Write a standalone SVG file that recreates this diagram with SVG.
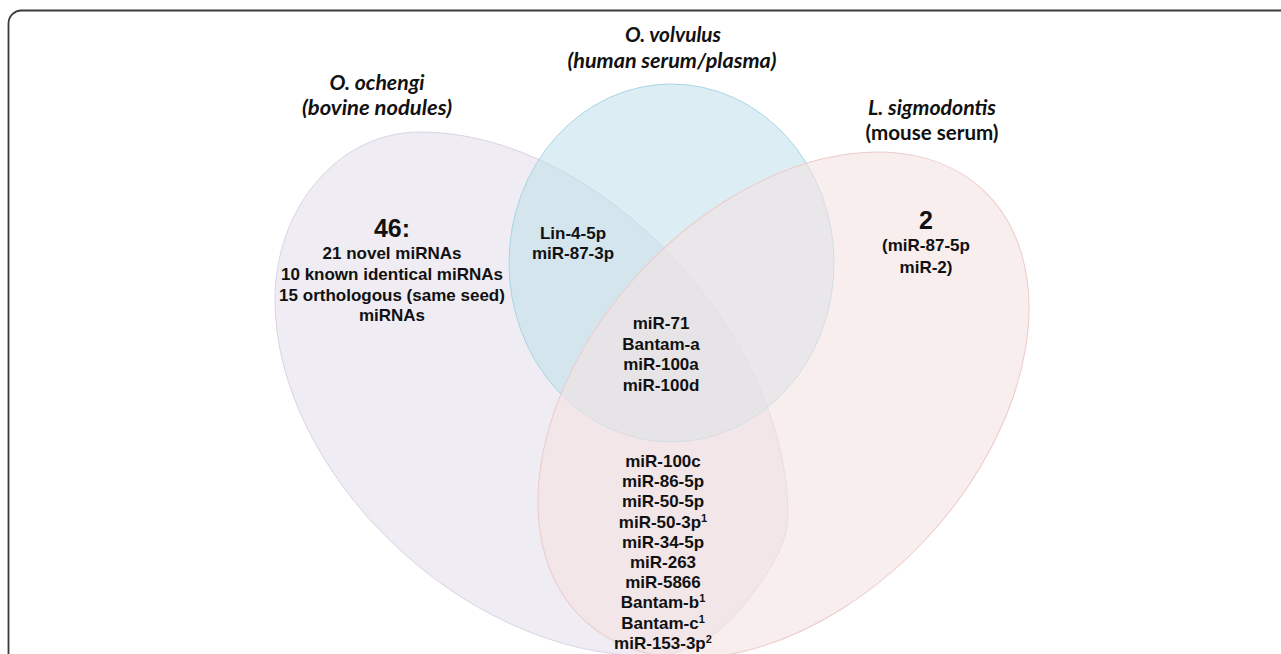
<svg xmlns="http://www.w3.org/2000/svg" width="1281" height="654" viewBox="0 0 1281 654">
<style>
.title{font-family:Lato,"Open Sans","Liberation Sans",sans-serif;font-weight:bold;font-size:20px;fill:#111;text-anchor:middle}
.it{font-style:italic}
.lbl{font-family:"Liberation Sans",Arial,sans-serif;font-weight:bold;font-size:17px;fill:#111;text-anchor:middle}
.big{font-family:"Liberation Sans",Arial,sans-serif;font-weight:bold;font-size:25px;fill:#111;text-anchor:middle}
.sup{font-size:11px}
</style>
<rect width="1281" height="654" fill="#ffffff"/>
<path d="M8.5 654 V23 A13 13 0 0 1 21.5 10.5 H1281" fill="none" stroke="#3a3a3a" stroke-width="1.8"/>
<g id="set-ochengi">
<path d="M420 132 C338 132 275 208 275 300 C275 470 460 656 650 656 C690 656 724 632 748 600 C766 576 788 545 788 515 C788 335 600 132 420 132 Z" fill="#EFECF3" stroke="#D9D3E5" stroke-width="1"/>
</g>
<g id="set-volvulus">
<ellipse cx="671.5" cy="263" rx="162.5" ry="179" fill="#B9DDE9" fill-opacity="0.5" stroke="#A6D6E4" stroke-width="1"/>
</g>
<g id="set-sigmodontis">
<ellipse cx="783.5" cy="405" rx="293.3" ry="195.6" transform="rotate(-47.25 783.5 405)" fill="#F3E3E3" fill-opacity="0.6" stroke="#EDCACA" stroke-width="1"/>
</g>
<g id="connectors"></g>
<g id="title-ochengi">
<text class="title it" x="377" y="90" textLength="95" lengthAdjust="spacingAndGlyphs">O. ochengi</text>
<text class="title it" x="377" y="115" textLength="150" lengthAdjust="spacingAndGlyphs">(bovine nodules)</text>
</g>
<g id="title-volvulus">
<text class="title it" x="673" y="42" textLength="96" lengthAdjust="spacingAndGlyphs">O. volvulus</text>
<text class="title it" x="672" y="68" textLength="209" lengthAdjust="spacingAndGlyphs">(human serum/plasma)</text>
</g>
<g id="title-sigmodontis">
<text class="title it" x="932" y="115" textLength="128" lengthAdjust="spacingAndGlyphs">L. sigmodontis</text>
<text class="title" x="932" y="140" textLength="133" lengthAdjust="spacingAndGlyphs">(mouse serum)</text>
</g>
<g id="only-ochengi">
<text class="big" x="392" y="237">46:</text>
<text class="lbl" x="392" y="259">21 novel miRNAs</text>
<text class="lbl" x="392" y="280">10 known identical miRNAs</text>
<text class="lbl" x="392" y="301">15 orthologous (same seed)</text>
<text class="lbl" x="392" y="321">miRNAs</text>
</g>
<g id="ochengi-volvulus">
<text class="lbl" x="573" y="239">Lin-4-5p</text>
<text class="lbl" x="573" y="259">miR-87-3p</text>
</g>
<g id="only-sigmodontis">
<text class="big" x="926" y="229">2</text>
<text class="lbl" x="926" y="251">(miR-87-5p</text>
<text class="lbl" x="926" y="273">miR-2)</text>
</g>
<g id="all-three">
<text class="lbl" x="661" y="329">miR-71</text>
<text class="lbl" x="661" y="349.5">Bantam-a</text>
<text class="lbl" x="661" y="370">miR-100a</text>
<text class="lbl" x="661" y="390.5">miR-100d</text>
</g>
<g id="ochengi-sigmodontis">
<text class="lbl" x="663" y="467">miR-100c</text>
<text class="lbl" x="663" y="487.2">miR-86-5p</text>
<text class="lbl" x="663" y="507.4">miR-50-5p</text>
<text class="lbl" x="663" y="527.6">miR-50-3p<tspan class="sup" dy="-6">1</tspan></text>
<text class="lbl" x="663" y="547.8">miR-34-5p</text>
<text class="lbl" x="663" y="568">miR-263</text>
<text class="lbl" x="663" y="588.2">miR-5866</text>
<text class="lbl" x="663" y="608.4">Bantam-b<tspan class="sup" dy="-6">1</tspan></text>
<text class="lbl" x="663" y="628.6">Bantam-c<tspan class="sup" dy="-6">1</tspan></text>
<text class="lbl" x="663" y="648.8">miR-153-3p<tspan class="sup" dy="-6">2</tspan></text>
</g>
</svg>
